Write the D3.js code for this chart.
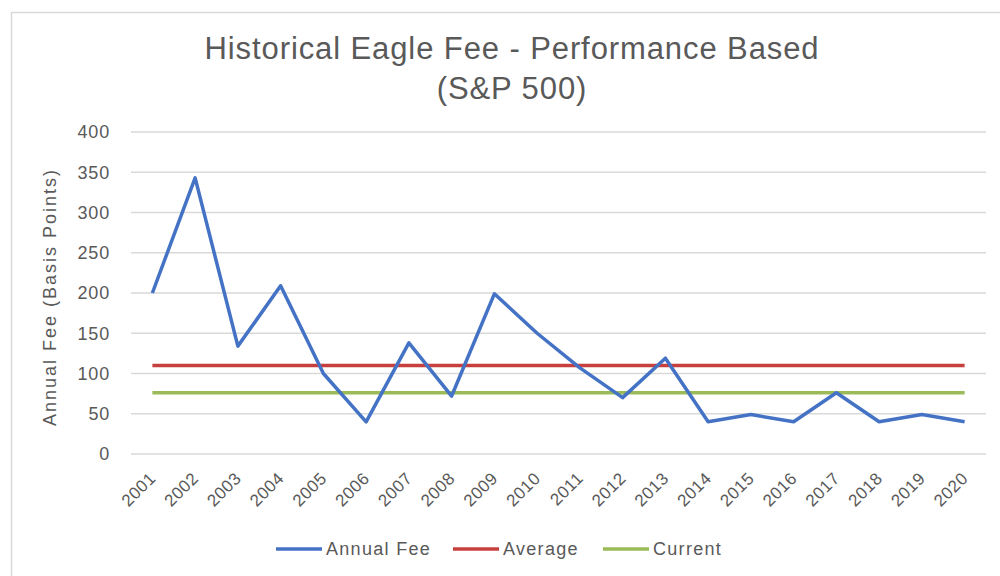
<!DOCTYPE html>
<html>
<head>
<meta charset="utf-8">
<script src="https://cdn.jsdelivr.net/npm/d3@7"></script>
<style>
  body { margin: 0; background: #fff; }
  svg { display: block; font-family: "Liberation Sans", Arial, sans-serif; }
  .grid line { stroke: #d9d9d9; stroke-width: 1.5; }
  .tick text { fill: #595959; }
</style>
</head>
<body>
<svg id="chart" width="1000" height="576"></svg>
<script>
// chart data
const years = ['2001', '2002', '2003', '2004', '2005', '2006', '2007', '2008', '2009', '2010',
    '2011', '2012', '2013', '2014', '2015', '2016', '2017', '2018', '2019', '2020'];
const annualFee = [200, 343, 134, 209, 100, 40, 138, 72, 199, 150,
    107, 70, 119, 40, 49, 40, 76, 40, 49, 40];
const averageFee = 110;
const currentFee = 76;
const yTicks = [0, 50, 100, 150, 200, 250, 300, 350, 400];

const seriesNames = ['Annual Fee', 'Average', 'Current'];
const seriesColors = ['#4472c4', '#c8403d', '#9bbb59'];

const svg = d3.select('#chart');
const margin = {left: 131, right: 14, top: 132, bottom: 122};
const width = 1000 - margin.left - margin.right;
const height = 576 - margin.top - margin.bottom;

// outer frame
svg.append('rect')
    .attr('x', 11.5).attr('y', 12.5)
    .attr('width', 1000).attr('height', 600)
    .attr('fill', 'none')
    .attr('stroke', '#d9d9d9')
    .attr('stroke-width', 1.5);

// title
const title = svg.append('text')
    .attr('text-anchor', 'middle')
    .attr('fill', '#595959')
    .style('font-size', '31px')
    .style('letter-spacing', '0.9px');
title.append('tspan').attr('x', 512).attr('y', 59).text('Historical Eagle Fee - Performance Based');
title.append('tspan').attr('x', 512).attr('y', 99).text('(S&P 500)');

const g = svg.append('g').attr('transform', `translate(${margin.left},${margin.top})`);

const x = d3.scaleBand().domain(years).range([0, width]);
const y = d3.scaleLinear().domain([0, 400]).range([height, 0]);
const cx = d => x(d) + x.bandwidth() / 2;

// gridlines
g.append('g')
    .attr('class', 'grid')
    .selectAll('line')
    .data(yTicks)
    .join('line')
    .attr('x1', 0).attr('x2', width)
    .attr('y1', d => y(d)).attr('y2', d => y(d));

// y axis
const yAxis = g.append('g')
    .call(d3.axisLeft(y).tickValues(yTicks).tickSize(0).tickPadding(21));
yAxis.select('.domain').remove();
yAxis.selectAll('text')
    .style('font-size', '18px')
    .style('letter-spacing', '0.8px');

// x axis
const xAxis = g.append('g')
    .attr('transform', `translate(0,${height})`)
    .call(d3.axisBottom(x).tickSize(0));
xAxis.select('.domain').remove();
xAxis.selectAll('text')
    .style('font-size', '17px')
    .style('letter-spacing', '0.5px')
    .attr('text-anchor', 'end')
    .attr('transform', 'translate(-2,19) rotate(-45)')
    .attr('dy', '0.35em');

// y axis title
svg.append('text')
    .attr('transform', 'translate(56,297) rotate(-90)')
    .attr('text-anchor', 'middle')
    .attr('fill', '#595959')
    .style('font-size', '18px')
    .style('letter-spacing', '2px')
    .text('Annual Fee (Basis Points)');

// reference lines
const refs = [averageFee, currentFee];
g.selectAll('.ref')
    .data(refs)
    .join('line')
    .attr('class', 'ref')
    .attr('x1', cx(years[0]))
    .attr('x2', cx(years[years.length - 1]))
    .attr('y1', d => y(d)).attr('y2', d => y(d))
    .attr('stroke', (d, i) => seriesColors[i + 1])
    .attr('stroke-width', 3.5);

// annual fee line
const line = d3.line()
    .x((d, i) => cx(years[i]))
    .y(d => y(d));
g.append('path')
    .datum(annualFee)
    .attr('d', line)
    .attr('fill', 'none')
    .attr('stroke', seriesColors[0])
    .attr('stroke-width', 3.5)
    .attr('stroke-linejoin', 'round');

// legend
const legendX = [276, 453, 603];
const legend = svg.append('g').selectAll('g')
    .data(seriesNames)
    .join('g')
    .attr('transform', (d, i) => `translate(${legendX[i]},549)`);
legend.append('line')
    .attr('x1', 0).attr('x2', 46)
    .attr('stroke', (d, i) => seriesColors[i])
    .attr('stroke-width', 3.5);
legend.append('text')
    .attr('x', 50)
    .attr('dy', '0.35em')
    .attr('fill', '#595959')
    .style('font-size', '18px')
    .style('letter-spacing', '1.3px')
    .text(d => d);
</script>
</body>
</html>
